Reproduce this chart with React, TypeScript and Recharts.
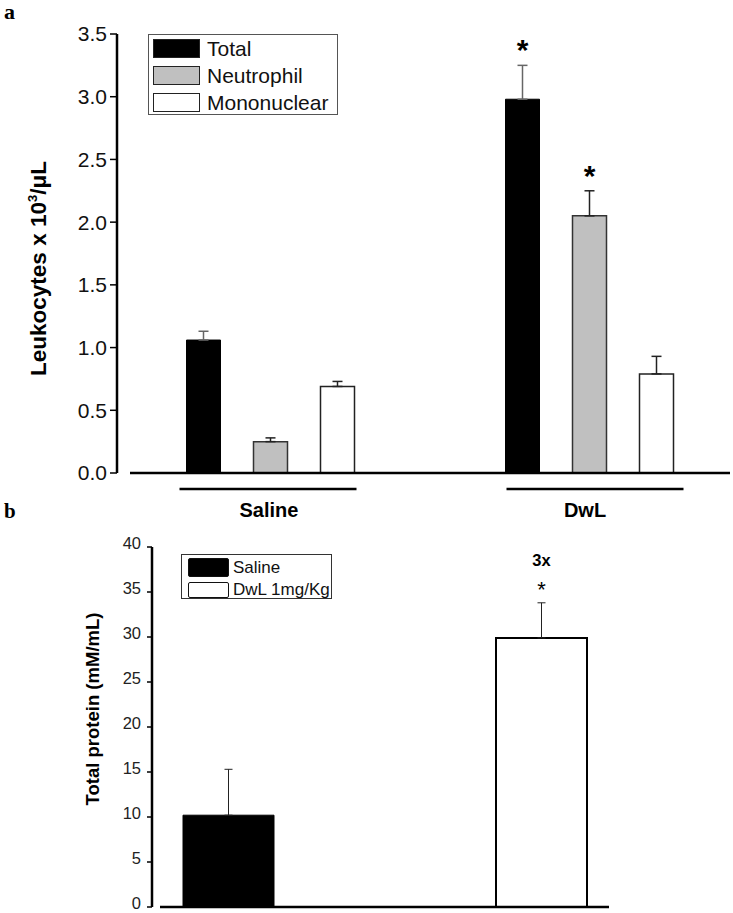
import React from 'react';
import { BarChart, Bar, XAxis, YAxis, ErrorBar, Legend } from 'recharts';

// panel a: leukocytes, mean + SEM
const groups = ['Saline', 'DwL'];
const leukoSeries = ['Total', 'Neutrophil', 'Mononuclear'];
const totalMean = [1.06, 2.98];
const totalErr = [0.07, 0.27];
const neutroMean = [0.25, 2.05];
const neutroErr = [0.03, 0.2];
const monoMean = [0.69, 0.79];
const monoErr = [0.04, 0.14];
const totalStar = ['', '*'];
const neutroStar = ['', '*'];
const leukoTicks = [0, 0.5, 1, 1.5, 2, 2.5, 3, 3.5];

// panel b: total protein
const proteinSeries = ['Saline', 'DwL 1mg/Kg'];
const proteinMean = [10.2, 29.9];
const proteinErr = [5.1, 3.9];
const proteinNote = ['', '3x'];
const proteinStar = ['', '*'];
const proteinTicks = [0, 5, 10, 15, 20, 25, 30, 35, 40];

const FONT = '"Liberation Sans", Arial, Helvetica, sans-serif';
const SERIF = '"Liberation Serif", "Times New Roman", serif';

const leukoData = groups.map((g, i) => ({
  group: g,
  total: totalMean[i],
  totalErr: [0, totalErr[i]],
  neutrophil: neutroMean[i],
  neutrophilErr: [0, neutroErr[i]],
  mononuclear: monoMean[i],
  mononuclearErr: [0, monoErr[i]],
}));

const proteinData = [
  {
    name: 'Total protein',
    saline: proteinMean[0],
    salineErr: [0, proteinErr[0]],
    dwl: proteinMean[1],
    dwlErr: [0, proteinErr[1]],
  },
];

// asterisk above the error bar; scale taken from the drawn bar
function starLabel(errs: number[], stars: string[]) {
  return (props: any) => {
    const { x, y, width, height, value, index } = props;
    const star = stars[index];
    if (!star || !value) return null;
    const top = y - errs[index] * (height / value);
    return (
      <text x={x + width / 2} y={top - 5} textAnchor="middle" fontFamily={FONT} fontSize={30} fontWeight="bold" fill="#000">
        {star}
      </text>
    );
  };
}

// one bar per series in panel b, so the series index picks the note
function proteinLabel(s: number) {
  return (props: any) => {
    const { x, y, width, height, value } = props;
    if (!proteinNote[s] || !value) return null;
    const top = y - proteinErr[s] * (height / value);
    const cx = x + width / 2;
    return (
      <g fontFamily={FONT} fill="#000">
        <text x={cx} y={top - 37} textAnchor="middle" fontSize={16.5} fontWeight="bold">{proteinNote[s]}</text>
        <text x={cx} y={top - 6} textAnchor="middle" fontSize={22}>{proteinStar[s]}</text>
      </g>
    );
  };
}

const UNDERLINE_DX = [-2, 6];
const LABEL_DX = [-1, -4];

function GroupTick(props: any) {
  const { x, y, payload, index } = props;
  const ux = x + (UNDERLINE_DX[index] ?? 0);
  return (
    <g>
      <line x1={ux - 88.5} x2={ux + 88.5} y1={y + 16} y2={y + 16} stroke="#000" strokeWidth={2.5} />
      <text x={x + (LABEL_DX[index] ?? 0)} y={y + 44} textAnchor="middle" fontFamily={FONT} fontSize={20} fontWeight="bold" fill="#000">
        {payload.value}
      </text>
    </g>
  );
}

function LeukoTitle(props: any) {
  const vb = props.viewBox ?? { y: 34, height: 439 };
  const cy = vb.y + vb.height / 2 + 15;
  return (
    <text transform={`translate(46,${cy}) rotate(-90)`} textAnchor="middle" fontFamily={FONT} fontSize={22.5} fontWeight="bold" fill="#000">
      Leukocytes x 10<tspan dy={-9} fontSize={13}>3</tspan><tspan dy={9}>/μL</tspan>
    </text>
  );
}

function ProteinTitle(props: any) {
  const vb = props.viewBox ?? { y: 47, height: 360 };
  const cy = vb.y + vb.height / 2 - 18;
  return (
    <text transform={`translate(98.5,${cy}) rotate(-90)`} textAnchor="middle" fontFamily={FONT} fontSize={18.5} fontWeight="bold" fill="#000">
      Total protein (mM/mL)
    </text>
  );
}

function ProteinTick(props: any) {
  const { x, y, payload } = props;
  return (
    <text x={x} y={y - 4} dy="0.355em" textAnchor="end" fontFamily={FONT} fontSize={16.5} fill="#222">
      {payload.value}
    </text>
  );
}

function inOrder(payload: any[] | undefined, names: string[]) {
  return [...(payload ?? [])].sort((a, b) => names.indexOf(a.value) - names.indexOf(b.value));
}

function LeukoLegend({ payload }: any) {
  return (
    <div style={{ width: 190, height: 81, border: '1.5px solid #555', boxSizing: 'border-box', background: '#fff', position: 'relative', fontFamily: FONT }}>
      {inOrder(payload, leukoSeries).map((entry: any, i: number) => (
        <div key={entry.value} style={{ position: 'absolute', left: 4, top: 3 + i * 27, height: 21, display: 'flex', alignItems: 'center' }}>
          <span style={{ display: 'inline-block', width: 47, height: 19, background: entry.color, border: '1.5px solid #222', boxSizing: 'border-box' }} />
          <span style={{ marginLeft: 7, fontSize: 21, lineHeight: '21px', color: '#111' }}>{entry.value}</span>
        </div>
      ))}
    </div>
  );
}

function ProteinLegend({ payload }: any) {
  return (
    <div style={{ width: 151, height: 45, border: '1px solid #333', boxSizing: 'border-box', background: '#fff', position: 'relative', fontFamily: FONT }}>
      {inOrder(payload, proteinSeries).map((entry: any, i: number) => (
        <div key={entry.value} style={{ position: 'absolute', left: 6, top: 3 + i * 22, height: 19, display: 'flex', alignItems: 'center' }}>
          <span style={{ display: 'inline-block', width: 41, height: i === 0 ? 19 : 16, background: entry.color, border: '1.5px solid #111', borderRadius: 2, boxSizing: 'border-box' }} />
          <span style={{ marginLeft: 4, fontSize: 17, lineHeight: '17px', color: '#111' }}>{entry.value}</span>
        </div>
      ))}
    </div>
  );
}

export default function App() {
  return (
    <div style={{ position: 'absolute', left: 0, top: 0, width: 733, height: 913, background: '#fff', overflow: 'hidden' }}>
      <svg width={733} height={913} style={{ position: 'absolute', left: 0, top: 0 }}>
        <text x={4} y={19} fontFamily={SERIF} fontSize={22} fontWeight="bold">a</text>
        <text x={4} y={518} fontFamily={SERIF} fontSize={21} fontWeight="bold">b</text>
      </svg>

      <div style={{ position: 'absolute', left: 0, top: 0 }}>
        <BarChart width={733} height={523} data={leukoData} margin={{ top: 34, right: 3, bottom: 0, left: 0 }} barSize={34} barGap={33}>
          {/* empty axis that keeps the x axis line off the y axis */}
          <YAxis yAxisId="gap" width={13} domain={[0, 3.5]} ticks={leukoTicks} tick={false} axisLine={false} tickLine={false} />
          <YAxis
            yAxisId="value"
            width={117}
            domain={[0, 3.5]}
            ticks={leukoTicks}
            interval={0}
            tickFormatter={(v: number) => v.toFixed(1)}
            tick={{ fontSize: 21, fill: '#111', fontFamily: FONT }}
            tickSize={7}
            tickMargin={3}
            axisLine={{ stroke: '#000', strokeWidth: 2.5 }}
            tickLine={{ stroke: '#000', strokeWidth: 1.5 }}
            label={<LeukoTitle />}
          />
          <XAxis
            dataKey="group"
            height={50}
            padding={{ left: -19.5, right: -18.5 }}
            axisLine={{ stroke: '#000', strokeWidth: 2.5 }}
            tickLine={false}
            tickSize={0}
            tickMargin={0}
            interval={0}
            tick={<GroupTick />}
          />
          <Legend layout="vertical" align="center" verticalAlign="middle" wrapperStyle={{ left: 148, top: 34, width: 'auto', height: 'auto' }} content={<LeukoLegend />} />
          <Bar yAxisId="value" dataKey="total" name={leukoSeries[0]} fill="#000" stroke="#000" strokeWidth={1} isAnimationActive={false} label={starLabel(totalErr, totalStar)}>
            <ErrorBar dataKey="totalErr" width={5} stroke="#666" strokeWidth={1.5} direction="y" />
          </Bar>
          <Bar yAxisId="value" dataKey="neutrophil" name={leukoSeries[1]} fill="#c0c0c0" stroke="#333" strokeWidth={1.5} isAnimationActive={false} label={starLabel(neutroErr, neutroStar)}>
            <ErrorBar dataKey="neutrophilErr" width={5} stroke="#222" strokeWidth={1.5} direction="y" />
          </Bar>
          <Bar yAxisId="value" dataKey="mononuclear" name={leukoSeries[2]} fill="#fff" stroke="#222" strokeWidth={1.5} isAnimationActive={false}>
            <ErrorBar dataKey="mononuclearErr" width={5} stroke="#222" strokeWidth={1.5} direction="y" />
          </Bar>
        </BarChart>
      </div>

      <div style={{ position: 'absolute', left: 0, top: 500 }}>
        <BarChart width={733} height={413} data={proteinData} margin={{ top: 47, right: 124, bottom: 0, left: 0 }} barSize={91} barGap={222}>
          <YAxis yAxisId="gap" width={8} domain={[0, 40]} ticks={proteinTicks} tick={false} axisLine={false} tickLine={false} />
          <YAxis
            yAxisId="value"
            width={152}
            domain={[0, 40]}
            ticks={proteinTicks}
            interval={0}
            tick={<ProteinTick />}
            tickSize={5}
            tickMargin={6}
            axisLine={{ stroke: '#000', strokeWidth: 2.5 }}
            tickLine={{ stroke: '#000', strokeWidth: 1.5 }}
            label={<ProteinTitle />}
          />
          <XAxis dataKey="name" height={6} tick={false} tickLine={false} axisLine={{ stroke: '#000', strokeWidth: 2.5 }} />
          <Legend layout="vertical" align="center" verticalAlign="middle" wrapperStyle={{ left: 181, top: 54, width: 'auto', height: 'auto' }} content={<ProteinLegend />} />
          <Bar yAxisId="value" dataKey="saline" name={proteinSeries[0]} fill="#000" stroke="#000" strokeWidth={1} isAnimationActive={false}>
            <ErrorBar dataKey="salineErr" width={4} stroke="#222" strokeWidth={1} direction="y" />
          </Bar>
          <Bar yAxisId="value" dataKey="dwl" name={proteinSeries[1]} fill="#fff" stroke="#000" strokeWidth={2} isAnimationActive={false} label={proteinLabel(1)}>
            <ErrorBar dataKey="dwlErr" width={4} stroke="#222" strokeWidth={1} direction="y" />
          </Bar>
        </BarChart>
      </div>
    </div>
  );
}
